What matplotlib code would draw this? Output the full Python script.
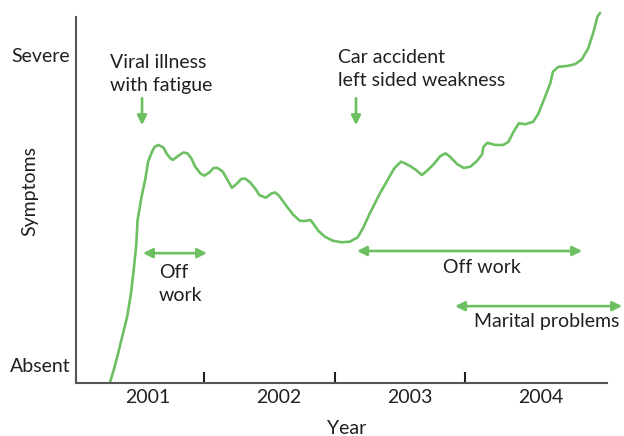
import matplotlib
matplotlib.use("Agg")
import matplotlib.pyplot as plt

# symptom curve (x in years, y: 0 = absent, 10 = severe)
yr = [2001.21, 2001.24, 2001.27, 2001.30, 2001.34, 2001.37, 2001.39, 2001.41, 2001.42, 2001.45,
      2001.48, 2001.50, 2001.53, 2001.55, 2001.58, 2001.62, 2001.64, 2001.67, 2001.69,
      2001.73, 2001.77, 2001.80, 2001.83, 2001.86, 2001.90, 2001.93, 2001.97,
      2002.00, 2002.03, 2002.07, 2002.10, 2002.14, 2002.18, 2002.21, 2002.24, 2002.28, 2002.32,
      2002.35, 2002.40, 2002.44, 2002.47, 2002.50, 2002.56, 2002.61, 2002.66, 2002.70, 2002.74,
      2002.76, 2002.80, 2002.85, 2002.91, 2002.98,
      2003.04, 2003.10, 2003.14, 2003.19, 2003.27, 2003.35, 2003.38, 2003.43, 2003.46, 2003.50,
      2003.54, 2003.59, 2003.63, 2003.68, 2003.73, 2003.77, 2003.80, 2003.86, 2003.91, 2003.96,
      2004.01, 2004.05, 2004.06, 2004.09, 2004.15, 2004.21, 2004.25, 2004.29, 2004.33, 2004.38,
      2004.44, 2004.48, 2004.53, 2004.57, 2004.59, 2004.63, 2004.70, 2004.76, 2004.81, 2004.86,
      2004.90, 2004.93, 2004.95]
sym = [-0.55, -0.13, 0.35, 0.87, 1.55, 2.32, 3.06, 3.87, 4.68, 5.42,
       6.02, 6.56, 6.88, 7.04, 7.10, 7.01, 6.83, 6.67, 6.62,
       6.75, 6.86, 6.83, 6.67, 6.40, 6.18, 6.11, 6.22,
       6.36, 6.36, 6.24, 6.02, 5.72, 5.86, 6.00, 6.02, 5.89, 5.68,
       5.48, 5.40, 5.53, 5.57, 5.46, 5.11, 4.84, 4.65, 4.65, 4.68,
       4.57, 4.33, 4.14, 4.01, 3.96,
       3.98, 4.12, 4.41, 4.87, 5.54, 6.13, 6.35, 6.56, 6.51, 6.42,
       6.31, 6.13, 6.27, 6.48, 6.74, 6.83, 6.74, 6.48, 6.36, 6.40,
       6.58, 6.80, 7.04, 7.17, 7.10, 7.10, 7.20, 7.53, 7.80, 7.77,
       7.85, 8.12, 8.65, 9.09, 9.46, 9.62, 9.65, 9.71, 9.86, 10.22,
       10.75, 11.24, 11.36]

year_labels = ["2001", "2002", "2003", "2004"]
year_centres = [2001.5, 2002.5, 2003.5, 2004.5]
year_bounds = [2001.93, 2002.93, 2003.92]
level_labels = ["Absent", "Severe"]
level_vals = [0, 10]

# events: (text, x of arrow, text x, text y)
events = [("Viral illness\nwith fatigue", 2001.454, 2001.21, 9.39),
          ("Car accident\nleft sided weakness", 2003.087, 2002.95, 9.55)]
# periods: (text, start, end, y of arrow, text x, text y, align)
periods = [("Off\nwork", 2001.461, 2001.950, 3.61, 2001.584, 2.61, "left"),
           ("Off work", 2003.095, 2004.813, 3.68, 2004.05, 3.16, "center"),
           ("Marital problems", 2003.843, 2005.118, 1.90, 2004.545, 1.39, "center")]

green = "#6cc062"
ink = "#231f20"
axcol = "#555555"
plt.rcParams['font.family'] = ['Lato', 'DejaVu Sans']
fs = 14

fig = plt.figure(figsize=(6.24, 4.36), dpi=100)
ax = fig.add_axes([76/624, 53/436, 531/624, 366/436])

ax.plot(yr, sym, color=green, lw=1.9, clip_on=False, solid_joinstyle="round", solid_capstyle="round")

ax.set_xlim(2000.95, 2005.003)
ax.set_ylim(-0.58, 11.23)

for s in ["top", "right"]:
    ax.spines[s].set_visible(False)
for s in ["left", "bottom"]:
    ax.spines[s].set_color(axcol)
    ax.spines[s].set_linewidth(1.5)

ax.set_xticks(year_centres, year_labels, fontsize=fs, color=ink)
ax.set_xticks(year_bounds, minor=True)
ax.tick_params(axis="x", which="major", length=0, pad=4)
ax.tick_params(axis="x", which="minor", direction="in", length=8, width=1.5, color=ink)
ax.set_yticks(level_vals, level_labels, fontsize=fs, color=ink)
ax.tick_params(axis="y", length=0, pad=4)

ax.text(0.51, -0.123, "Year", transform=ax.transAxes, fontsize=fs, color=ink,
        ha="center", va="center")
ax.text(-0.0866, 0.525, "Symptoms", transform=ax.transAxes, fontsize=fs, color=ink,
        ha="center", va="center", rotation=90)

for txt, xa, xt, yt in events:
    ax.text(xt, yt, txt, fontsize=fs, color=ink, ha="left", va="center", linespacing=1.45)
    ax.annotate("", xy=(xa, 7.74), xytext=(xa, 8.61),
                arrowprops=dict(arrowstyle="-|>", color=green, lw=1.9, mutation_scale=14,
                                shrinkA=0, shrinkB=0))

for txt, x0, x1, ya, xt, yt, al in periods:
    ax.annotate("", xy=(x1, ya), xytext=(x0, ya), annotation_clip=False,
                arrowprops=dict(arrowstyle="<|-|>", color=green, lw=1.9, mutation_scale=14,
                                shrinkA=0, shrinkB=0))
    ax.text(xt, yt, txt, fontsize=fs, color=ink, ha=al, va="center", linespacing=1.45)

fig.savefig("out.png", dpi=100)
